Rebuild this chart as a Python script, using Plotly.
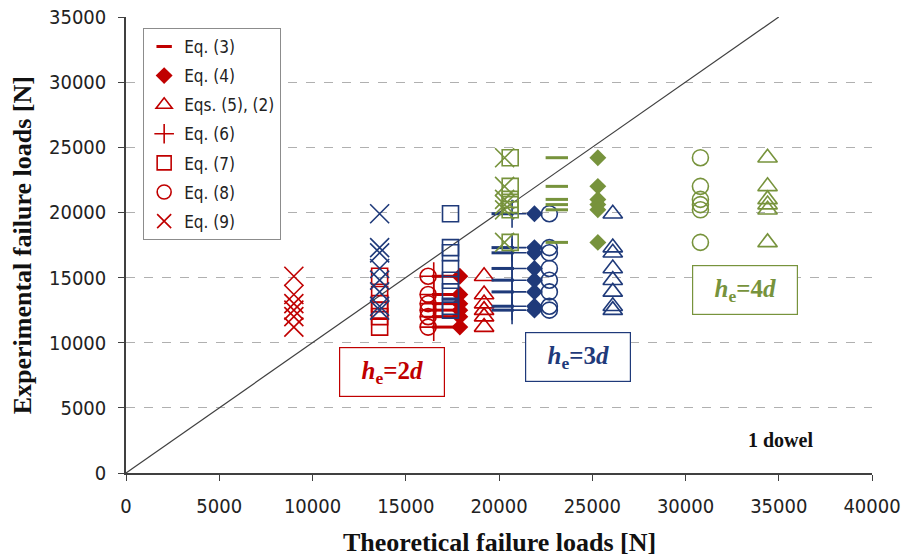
import plotly.graph_objects as go

# ---------------- data ----------------
equations = ["Eq. (3)", "Eq. (4)", "Eqs. (5), (2)", "Eq. (6)", "Eq. (7)", "Eq. (8)", "Eq. (9)"]

# experimental failure loads (same specimens for each equation within a group)
exp_2d = [15100, 13700, 13000, 12500, 12000, 11200]
exp_3d = [19900, 17300, 16900, 15700, 14800, 13900, 12800, 12500]
exp_4d = [24200, 22000, 21000, 20600, 20200, 17700]

# theoretical failure loads per equation (order as in `equations`)
theo_2d = [17000, 17900, 19200, 16500, 13600, 16200, 9000]
theo_3d = [20200, 21900, 26100, 20700, 17400, 22700, 13600]
theo_4d = [23100, 25300, 34400, 20600, 20600, 30800, 20300]

x_ticks = [0, 5000, 10000, 15000, 20000, 25000, 30000, 35000, 40000]
y_ticks = [0, 5000, 10000, 15000, 20000, 25000, 30000, 35000]
diag = [0, 35000]

# ---------------- styles ----------------
RED = "#C00000"
BLUE = "#1F3A7A"
GREEN = "#77933C"

symbols = ["line-ew-open", "diamond", "triangle-up-open", "cross-thin-open",
           "square-open", "circle-open", "x-thin-open"]
sizes = [16, 13, 17, 20, 16, 16, 19]
legend_sizes = [11, 13, 14, 14, 14, 14, 14]
lwidths = [3, 0, 1.6, 1.6, 1.6, 1.6, 1.6]

fig = go.Figure()

fig.add_trace(go.Scatter(x=diag, y=diag, mode="lines",
                         line=dict(color="#404040", width=1.2),
                         showlegend=False, hoverinfo="skip"))

groups = [(theo_2d, exp_2d, RED), (theo_3d, exp_3d, BLUE), (theo_4d, exp_4d, GREEN)]
for theo, exp, col in groups:
    for i, eq in enumerate(equations):
        if col == GREEN and eq == "Eq. (6)":
            continue
        fig.add_trace(go.Scatter(
            x=[theo[i]] * len(exp), y=exp, mode="markers",
            marker=dict(symbol=symbols[i], size=sizes[i], color=col,
                        line=dict(color=col, width=lwidths[i])),
            showlegend=False, name=eq))

# legend-only entries (red)
for i, eq in enumerate(equations):
    fig.add_trace(go.Scatter(
        x=[None], y=[None], mode="markers", name=eq, legendgroup=eq,
        marker=dict(symbol=symbols[i], size=legend_sizes[i], color=RED,
                    line=dict(color=RED, width=lwidths[i] if lwidths[i] else 0)),
        showlegend=True))

serif = "Liberation Serif, Times New Roman, serif"
sans = "DejaVu Sans Condensed, Liberation Sans Narrow, Open Sans, sans-serif"

ann = []
def box(text, x, y, col):
    ann.append(dict(x=x, y=y, xref="x", yref="y", text=text, showarrow=False,
                    font=dict(family=serif, size=25, color=col),
                    bordercolor=col, borderwidth=1.2, borderpad=2,
                    width=100, height=44, bgcolor="white"))

box("<b><i>h</i><sub>e</sub>=2<i>d</i></b>", 14260, 7750, RED)
box("<b><i>h</i><sub>e</sub>=3<i>d</i></b>", 24240, 8900, BLUE)
box("<b><i>h</i><sub>e</sub>=4<i>d</i></b>", 33190, 14040, GREEN)
ann.append(dict(x=35070, y=2530, xref="x", yref="y", text="<b>1 dowel</b>",
                showarrow=False, font=dict(family=serif, size=20, color="#111")))
# axis titles
ann.append(dict(x=0.5, y=-0.1535, xref="paper", yref="paper",
                xanchor="center", yanchor="middle",
                text="<b>Theoretical failure loads [N]</b>", showarrow=False,
                font=dict(family=serif, size=26, color="#111")))
ann.append(dict(x=-0.139, y=0.5, xref="paper", yref="paper", textangle=-90,
                xanchor="center", yanchor="middle",
                text="<b>Experimental failure loads [N]</b>", showarrow=False,
                font=dict(family=serif, size=26, color="#111")))

fig.update_layout(
    width=905, height=558,
    margin=dict(l=126, r=33, t=17, b=85),
    plot_bgcolor="white", paper_bgcolor="white",
    annotations=ann,
    legend=dict(x=0.023, y=0.976, xanchor="left", yanchor="top",
                bordercolor="#8c8c8c", borderwidth=1, bgcolor="white",
                font=dict(family=sans, size=17, color="#222"),
                tracegroupgap=4, itemwidth=30),
    xaxis=dict(range=[0, 40000], tickvals=x_ticks, ticktext=[str(v) for v in x_ticks],
               showgrid=False, automargin=False,
               showline=True, linecolor="#404040", linewidth=1.5,
               ticks="outside", ticklen=6, tickcolor="#404040", ticklabelstandoff=8,
               tickfont=dict(family=sans, size=20, color="#222"), zeroline=False),
    yaxis=dict(range=[0, 35000], tickvals=y_ticks, ticktext=[str(v) for v in y_ticks],
               showgrid=True, automargin=False,
               gridcolor="#b0b0b0", griddash="dash", gridwidth=1,
               showline=True, linecolor="#404040", linewidth=1.5,
               ticks="outside", ticklen=6, tickcolor="#404040", ticklabelstandoff=8,
               tickfont=dict(family=sans, size=20, color="#222"), zeroline=False),
)

fig.write_html("out.html")
